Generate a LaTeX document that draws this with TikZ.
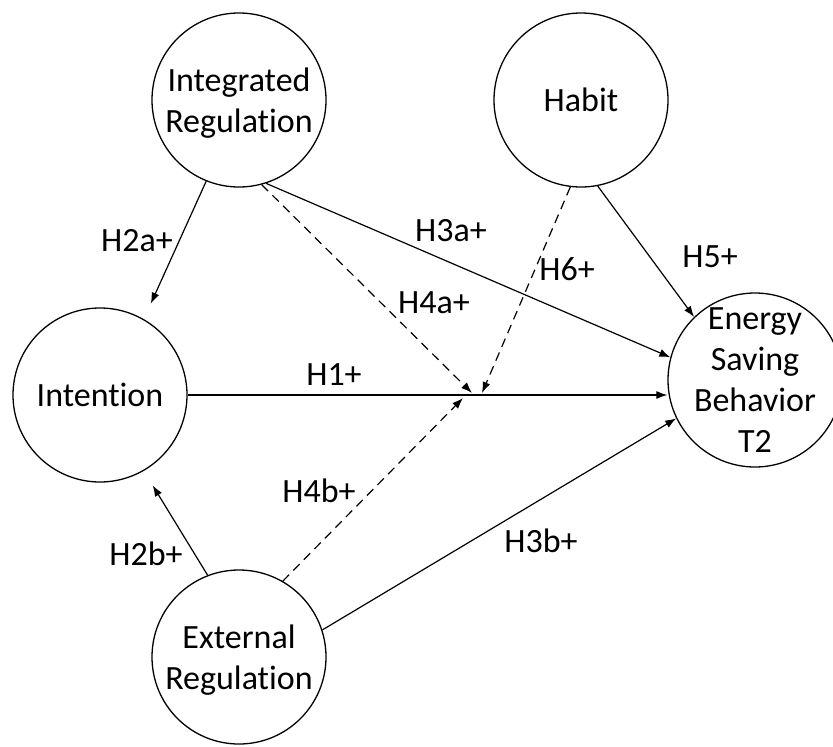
\documentclass[tikz,border=0pt]{standalone}
\usepackage{fontspec}
\setmainfont{Carlito}[Ligatures=NoCommon]
\usetikzlibrary{arrows.meta}
\tikzset{
  construct/.style={draw, circle, line width=1.3pt, minimum size=174pt, inner sep=-15pt,
    align=center, font=\fontsize{34}{41}\selectfont},
  hyp/.style={font=\fontsize{34}{41}\selectfont, inner sep=0pt},
  effect/.style={line width=1.2pt, -{Latex[length=11pt,width=8pt]}},
  modeff/.style={effect, dash pattern=on 9pt off 6pt},
}
\begin{document}
\begin{tikzpicture}[x=1pt,y=-1pt]
\useasboundingbox (0,0) rectangle (833,747);
% constructs
\node[construct, text depth=0pt] (intreg) at (239,100) {Integrated\\Regulation};
\node[construct] (habit) at (581,100) {Habit};
\node[construct] (intent) at (100,395) {Intention};
\node[construct] (esb) at (755,380) {Energy\\Saving\\Behavior\\T2};
\node[construct, text depth=0pt] (extreg) at (239,657) {External\\Regulation};
% direct effects
\draw[effect] (intent.east) -- (intent -| esb.west);
\draw[effect, shorten >=17pt] (intreg.-112) -- (intent.60);
\draw[effect, shorten >=17pt] (extreg.111) -- (intent.-60);
\draw[effect] (intreg.-72) -- (esb.165);
\draw[effect] (habit.-79) -- (esb.134);
\draw[effect] (extreg.18) -- (esb.-154);
% moderation
\coordinate (h4atip) at (472,393);
\coordinate (h6tip) at (482,393);
\coordinate (h4btip) at (463,398);
\draw[modeff] (intreg.-75) -- (h4atip);
\draw[modeff] (habit.-97) -- (h6tip);
\draw[modeff] (extreg.60) -- (h4btip);
% labels
\node[hyp] (lh1) at (334,375) {H1+};
\node[hyp] (lh2a) at (137,241) {H2a+};
\node[hyp] (lh2b) at (146,554) {H2b+};
\node[hyp] (lh3a) at (451,231) {H3a+};
\node[hyp] (lh3b) at (541,541) {H3b+};
\node[hyp] (lh4a) at (434,303) {H4a+};
\node[hyp] (lh4b) at (319,491) {H4b+};
\node[hyp] (lh5) at (710,257) {H5+};
\node[hyp] (lh6) at (567,269) {H6+};
\end{tikzpicture}
\end{document}
